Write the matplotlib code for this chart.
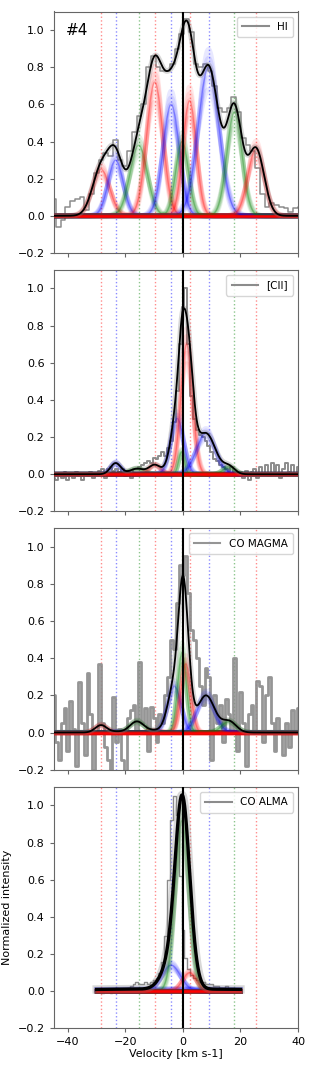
import numpy as np
import matplotlib
matplotlib.use("Agg")
import matplotlib.pyplot as plt

# ---------------- data ----------------
prior_centers = [-28.5, -23.4, -15.4, -9.8, -4.1, -0.3, 2.3, 8.9, 17.9, 25.4]
comp_colors = ["red", "blue", "green"] * 3 + ["red"]

# HI components
hi_centers = [-28.5, -23.4, -15.4, -9.8, -4.1, -0.3, 2.3, 8.9, 17.9, 25.4]
hi_amps    = [0.25, 0.30, 0.38, 0.72, 0.60, 0.40, 0.62, 0.80, 0.56, 0.36]
hi_sigmas  = [3.0, 2.6, 3.0, 2.8, 2.8, 2.2, 2.3, 3.6, 2.6, 2.8]

# [CII] components
cii_centers = [-28.5, -23.4, -16.0, -9.8, -2.0, -0.5, 1.3, 8.0, 16.0, 25.4]
cii_amps    = [0.0, 0.06, 0.03, 0.05, 0.30, 0.12, 0.70, 0.22, 0.04, 0.0]
cii_sigmas  = [2.0, 1.8, 2.5, 2.0, 2.2, 1.0, 2.0, 3.3, 2.0, 2.0]

# CO MAGMA components
mag_centers = [-28.5, -23.4, -16.0, -9.8, -3.0, -0.3, 1.0, 8.0, 16.0, 25.4]
mag_amps    = [0.04, 0.005, 0.06, 0.01, 0.25, 0.43, 0.37, 0.20, 0.06, 0.0]
mag_sigmas  = [2.0, 2.0, 2.5, 2.0, 2.3, 1.5, 1.7, 3.0, 2.5, 2.0]

# CO ALMA components
alma_centers = [-28.5, -4.0, -15.4, -9.8, -4.1, -0.3, 2.3, 8.9, 17.9, 25.4]
alma_amps    = [0.0, 0.012, 0.0, 0.0, 0.14, 0.92, 0.10, 0.0, 0.0, 0.0]
alma_sigmas  = [2.0, 40.0, 2.0, 2.0, 3.2, 2.4, 2.4, 2.0, 2.0, 2.0]

# observed spectra
hi_vel = [-45.0, -43.35, -41.7, -40.05, -38.4, -36.75, -35.1, -33.45, -31.8, -30.15,
          -28.5, -26.85, -25.2, -23.55, -21.9, -20.25, -18.6, -16.95, -15.3, -13.65,
          -12.0, -10.35, -8.7, -7.05, -5.4, -3.75, -2.1, -0.45, 1.2, 2.85,
          4.5, 6.15, 7.8, 9.45, 11.1, 12.75, 14.4, 16.05, 17.7, 19.35,
          21.0, 22.65, 24.3, 25.95, 27.6, 29.25, 30.9, 32.55, 34.2, 35.85,
          37.5, 39.15, 40.8]
hi_int = [0.09, -0.06, -0.02, 0.05, 0.08, 0.09, 0.10, 0.03, 0.12, 0.23,
          0.30, 0.34, 0.32, 0.41, 0.30, 0.27, 0.35, 0.45, 0.54, 0.60,
          0.80, 0.86, 0.80, 0.78, 0.78, 0.82, 0.90, 0.98, 1.06, 0.99,
          0.82, 0.80, 0.82, 0.78, 0.70, 0.58, 0.56, 0.58, 0.64, 0.56,
          0.42, 0.38, 0.35, 0.26, 0.12, 0.05, 0.07, 0.06, 0.05, 0.04,
          0.02, 0.04, 0.05]

cii_int = [-0.02, -0.03, 0.00, -0.02, 0.01, -0.03, 0.00, -0.02, 0.01, -0.01,
           -0.03, 0.00, -0.01, 0.01, -0.02, 0.00, 0.02, 0.03, -0.02, 0.03,
           0.04, 0.02, 0.03, 0.01, 0.03, -0.01, 0.02, -0.02, 0.03, 0.03,
           0.04, 0.05, 0.06, 0.07, 0.06, 0.09, 0.08, 0.10, 0.12, 0.10,
           0.14, 0.18, 0.28, 0.45, 0.70, 0.90, 1.00, 0.70, 0.42, 0.30,
           0.24, 0.21, 0.20, 0.18, 0.15, 0.12, 0.08, 0.07, 0.05, 0.04,
           0.03, 0.02, 0.04, 0.01, 0.00, 0.01, -0.02, 0.02, -0.03, 0.01,
           0.03, -0.02, 0.04, 0.00, 0.05, -0.01, 0.06, 0.02, 0.05, -0.02,
           0.03, 0.06, 0.01, 0.05, -0.01, 0.04]

mag_int = [0.20, -0.05, -0.15, 0.05, 0.13, -0.10, 0.17, 0.02, -0.18, 0.27,
           0.05, -0.12, 0.32, 0.10, -0.20, 0.00, 0.37, 0.05, -0.08, -0.15,
           -0.20, 0.19, -0.05, 0.02, -0.15, -0.25, 0.08, 0.12, 0.15, 0.00,
           0.38, 0.05, 0.13, -0.10, 0.14, 0.08, -0.05, 0.10, 0.05, 0.20,
           0.30, 0.50, 0.45, 0.70, 0.90, 0.85, 0.95, 0.75, 0.55, 0.50,
           0.40, 0.25, 0.15, 0.35, 0.30, -0.15, 0.20, 0.05, 0.15, -0.05,
           0.18, 0.10, 0.00, 0.40, -0.10, 0.22, 0.05, -0.18, 0.10, 0.15,
           0.00, 0.28, 0.25, -0.05, 0.20, 0.30, 0.05, -0.10, 0.08, 0.00,
           -0.12, 0.05, -0.08, 0.12, 0.00, 0.13]

alma_int = [0.01, 0.00, -0.01, 0.01, 0.00, -0.01, 0.01, 0.02, 0.01, 0.00,
            0.01, 0.02, 0.03, 0.04, 0.05, 0.04, 0.04, 0.05, 0.04, 0.05,
            0.06, 0.07, 0.10, 0.16, 0.30, 0.60, 0.92, 1.05, 0.95, 0.62,
            0.33, 0.18, 0.12, 0.09, 0.07, 0.06, 0.05, 0.05, 0.04, 0.04,
            0.04, 0.03, 0.03, 0.02, 0.02, 0.03, 0.01, 0.02, 0.01, 0.00,
            0.00]

labels = ["HI", "[CII]", "CO MAGMA", "CO ALMA"]
x_ticks = [-40, -20, 0, 20, 40]
y_ticks = [-0.2, 0.0, 0.2, 0.4, 0.6, 0.8, 1.0]

# ---------------- plotting ----------------
def gauss(x, c, a, s):
    return a * np.exp(-0.5 * ((x - c) / s) ** 2)

fig = plt.figure(figsize=(3.14, 10.67), dpi=100)
W, H = 314.0, 1067.0
left = 53.5 / W
width = (298.0 - 53.5) / W
bottoms_px = [253.0, 511.4, 769.7, 1028.4]
height = 241.5 / H

grid_full = np.linspace(-45, 40, 600)
grid_alma = np.linspace(-30, 20, 400)

panels = [
    (hi_centers, hi_amps, hi_sigmas, grid_full, np.array(hi_vel), hi_int, 1.1, "#808080"),
    (cii_centers, cii_amps, cii_sigmas, grid_full, np.arange(-45, 41, 1.0), cii_int, 1.4, "#808080"),
    (mag_centers, mag_amps, mag_sigmas, grid_full, np.arange(-45, 41, 1.0), mag_int, 2.0, "#8a8a8a"),
    (alma_centers, alma_amps, alma_sigmas, grid_alma, np.arange(-30, 21, 1.0), alma_int, 1.0, "#808080"),
]

spread = [(0.85, 1.12), (1.12, 0.9), (0.93, 1.05), (1.06, 0.96), (1.0, 1.0)]

for i, (cs, amps, sigs, grid, vel, inten, dlw, dcol) in enumerate(panels):
    ax = fig.add_axes([left, 1 - bottoms_px[i] / H, width, height])
    for sp in ax.spines.values():
        sp.set_color("#666666")
        sp.set_linewidth(0.8)

    # prior centers
    for c, col in zip(prior_centers, comp_colors):
        ax.axvline(c, color=col, ls=":", lw=1.0, alpha=0.45, zorder=1)

    # observed spectrum
    ax.step(vel, inten, where="mid", color=dcol, lw=dlw, alpha=0.9,
            label=labels[i], zorder=2)

    # components with a soft spread
    total = np.zeros_like(grid)
    for c, a, s, col in zip(cs, amps, sigs, comp_colors):
        for fa, fs in spread:
            ax.plot(grid, gauss(grid, c, a * fa, s * fs), color=col,
                    lw=3.5, alpha=0.09, zorder=3)
        ax.plot(grid, gauss(grid, c, a, s), color=col, lw=1.0, alpha=0.3, zorder=3)
        total += gauss(grid, c, a, s)
    ax.plot(grid, np.zeros_like(grid), color="red", lw=1.8, zorder=4)

    # total model
    ax.plot(grid, total, color="gray", lw=6.0 if i == 3 else 4.0, alpha=0.3, zorder=5)
    ax.plot(grid, total, color="black", lw=2.4 if i == 3 else 1.3, zorder=6)

    ax.axvline(0, color="black", lw=1.5, zorder=7)

    ax.set_xlim(-45, 40)
    ax.set_ylim(-0.2, 1.1)
    ax.set_xticks(x_ticks)
    ax.set_yticks(y_ticks)
    ax.tick_params(labelsize=8, length=3, color="#666666")
    if i < 3:
        ax.set_xticklabels([])
    else:
        ax.set_xlabel("Velocity [km s-1]", fontsize=8, labelpad=1)
        ax.set_ylabel("Normalized intensity", fontsize=8)
    leg = ax.legend(loc="upper right", fontsize=7.5, handlelength=2.5,
                    borderpad=0.5, framealpha=0.8)
    for h in leg.get_lines():
        h.set_linewidth(1.5)
    if i == 0:
        ax.text(0.05, 0.92, "#4", transform=ax.transAxes, fontsize=11,
                va="center", ha="left")

fig.savefig("out.png", dpi=100)
